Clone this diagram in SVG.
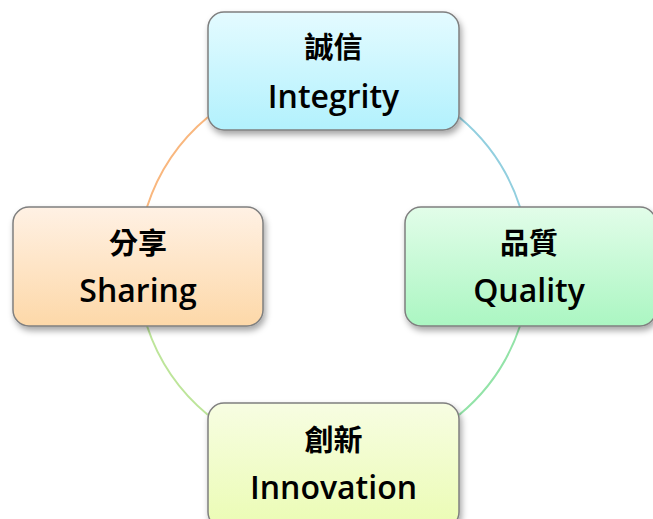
<svg xmlns="http://www.w3.org/2000/svg" width="653" height="519" viewBox="0 0 653 519">
<defs>
<linearGradient id="gTop" x1="0" y1="0" x2="0" y2="1"><stop offset="0" stop-color="#e4fbff"/><stop offset="1" stop-color="#b2f1fd"/></linearGradient>
<linearGradient id="gLeft" x1="0" y1="0" x2="0" y2="1"><stop offset="0" stop-color="#fff1e4"/><stop offset="1" stop-color="#fdd8a8"/></linearGradient>
<linearGradient id="gRight" x1="0" y1="0" x2="0" y2="1"><stop offset="0" stop-color="#e2fde9"/><stop offset="1" stop-color="#abf6c2"/></linearGradient>
<linearGradient id="gBottom" x1="0" y1="0" x2="0" y2="1"><stop offset="0" stop-color="#f7fde2"/><stop offset="1" stop-color="#ebfcb4"/></linearGradient>
<filter id="sh" x="-10%" y="-10%" width="125%" height="135%"><feDropShadow dx="2" dy="4" stdDeviation="3" flood-color="#000" flood-opacity="0.35"/></filter>
</defs>
<style>
.box{stroke:#7f7f7f;stroke-width:1.5;filter:url(#sh)}
.zh{font-family:"Noto Sans CJK TC","Noto Sans CJK SC",sans-serif;font-weight:bold;font-size:29px;fill:#000;text-anchor:middle;dominant-baseline:central}
.en{font-family:"Open Sans","Noto Sans",sans-serif;font-weight:600;font-size:32px;fill:#000;text-anchor:middle}
.arc{fill:none;stroke-width:2}
</style>
<g id="connectors">
<path class="arc" stroke="#f9b77e" d="M208,117 A195,195 0 0 0 147,207"/>
<path class="arc" stroke="#92cfdf" d="M459,117 A195,195 0 0 1 520,207"/>
<path class="arc" stroke="#93e3a8" d="M520,326 A195,195 0 0 1 459,415"/>
<path class="arc" stroke="#bde59a" d="M147,326 A195,195 0 0 0 208,415"/>
</g>
<g id="integrity">
<rect class="box" x="208" y="12" width="251" height="118" rx="16" fill="url(#gTop)"/>
<text class="zh" x="333.5" y="45">誠信</text>
<text class="en" x="333.5" y="108">Integrity</text>
</g>
<g id="sharing">
<rect class="box" x="13" y="207" width="250" height="119" rx="16" fill="url(#gLeft)"/>
<text class="zh" x="138" y="241">分享</text>
<text class="en" x="138" y="302">Sharing</text>
</g>
<g id="quality">
<rect class="box" x="405" y="207" width="251" height="119" rx="16" fill="url(#gRight)"/>
<text class="zh" x="529" y="241">品質</text>
<text class="en" x="529" y="302">Quality</text>
</g>
<g id="innovation">
<rect class="box" x="208" y="403" width="251" height="125" rx="16" fill="url(#gBottom)"/>
<text class="zh" x="333.5" y="438">創新</text>
<text class="en" x="333.5" y="499">Innovation</text>
</g>
</svg>
